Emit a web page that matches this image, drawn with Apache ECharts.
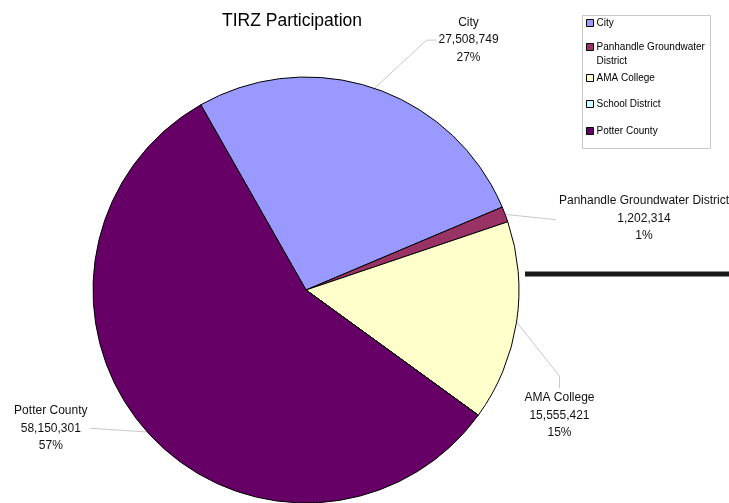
<!DOCTYPE html>
<html>
<head>
<meta charset="utf-8">
<script src="https://cdn.jsdelivr.net/npm/echarts@6/dist/echarts.min.js"></script>
<style>
  html, body { margin: 0; padding: 0; background: #fff; }
  #chart { width: 729px; height: 503px; }
</style>
</head>
<body>
<div id="chart"></div>
<script>
// data
const names = ['City', 'Panhandle Groundwater District', 'AMA College', 'School District', 'Potter County'];
const values = [27508749, 1202314, 15555421, 0, 58150301];
const colors = ['#9999ff', '#993366', '#ffffcc', '#ccffff', '#660066'];

// legend rows (top of each row), leader line lengths, label nudges and leader shapes
const legendTops = [18, 26, 73, 99, 126];
const lineLens = [[53, 38], [2, 47], [10, 45], [0, 0], [5, 55]];
const labelShift = [[4, 2], [0, 5], [-52, 92], [0, 0], [4, -7]];
const leaderKind = ['elbow', 'straightLeft', 'drop', null, 'straightRight'];

const chart = echarts.init(document.getElementById('chart'));

const pieData = names.map((n, i) => {
  const item = {
    name: n, value: values[i], itemStyle: { color: colors[i] },
    labelLine: { length: lineLens[i][0], length2: lineLens[i][1] }
  };
  if (values[i] === 0) {
    item.label = { show: false };
    item.labelLine = { show: false };
  }
  return item;
});

const legends = names.map((n, i) => {
  const lg = {
    left: 586,
    top: legendTops[i],
    orient: 'vertical',
    padding: 0,
    itemWidth: 7,
    itemHeight: 7,
    itemGap: 0,
    icon: 'rect',
    itemStyle: { borderColor: '#000', borderWidth: 1 },
    textStyle: { fontFamily: 'Liberation Sans', fontSize: 10, color: '#000', padding: [0, 0, 0, -2] },
    data: [{ name: n }]
  };
  if (n === 'Panhandle Groundwater District') {
    // blank first line keeps the marker level with the first text line
    lg.formatter = () => '\nPanhandle Groundwater\nDistrict';
    lg.textStyle = Object.assign({}, lg.textStyle, { lineHeight: 14 });
  }
  return lg;
});

// move the label, then redraw its leader from the slice edge to the moved label
function placeLabel(p) {
  const i = p.dataIndex;
  const dx = labelShift[i][0], dy = labelShift[i][1];
  const r = p.labelRect;
  const left = r.x + dx, top = r.y + dy, w = r.width, h = r.height;
  const res = { dx: dx, dy: dy };
  const pts = p.labelLinePoints;
  if (!pts || !leaderKind[i]) return res;
  const s = pts[0];
  const midY = top + h / 2;
  if (leaderKind[i] === 'elbow') {
    res.labelLinePoints = [s, [left - 12, midY], [left - 2, midY]];
  } else if (leaderKind[i] === 'straightLeft') {
    res.labelLinePoints = [s, [left - 3, midY + 1]];
  } else if (leaderKind[i] === 'drop') {
    res.labelLinePoints = [s, [left + w / 2, top - 16], [left + w / 2, top - 4]];
  } else if (leaderKind[i] === 'straightRight') {
    res.labelLinePoints = [s, [left + w + 3, midY]];
  }
  return res;
}

const option = {
  animation: false,
  backgroundColor: '#fff',
  title: {
    text: 'TIRZ Participation',
    left: 287,
    top: 7,
    textAlign: 'center',
    textStyle: { fontFamily: 'Liberation Sans', fontSize: 17.5, fontWeight: 'normal', color: '#000' }
  },
  legend: legends,
  graphic: [
    { type: 'rect', shape: { x: 582.5, y: 15.5, width: 128, height: 133 },
      style: { fill: 'none', stroke: '#c8c8c8', lineWidth: 1 }, z: -1 },
    { type: 'line', shape: { x1: 525, y1: 274, x2: 729, y2: 274 },
      style: { stroke: '#1a1a1a', lineWidth: 5 } }
  ],
  series: [{
    type: 'pie',
    center: [306, 290],
    radius: 213,
    startAngle: 119.6,
    clockwise: true,
    avoidLabelOverlap: false,
    itemStyle: { borderColor: '#000', borderWidth: 1 },
    label: {
      position: 'outside',
      formatter: p => '{a|' + p.name + '}\n{a|' + p.value.toLocaleString('en-US') + '}\n{a|' + Math.round(p.percent) + '%}',
      rich: {
        a: { fontFamily: 'Liberation Sans', fontSize: 12, color: '#111', align: 'center', lineHeight: 17.5 }
      }
    },
    labelLine: {
      lineStyle: { color: '#c8c8c8', width: 1 }
    },
    labelLayout: placeLabel,
    data: pieData
  }]
};

chart.setOption(option);
</script>
</body>
</html>
